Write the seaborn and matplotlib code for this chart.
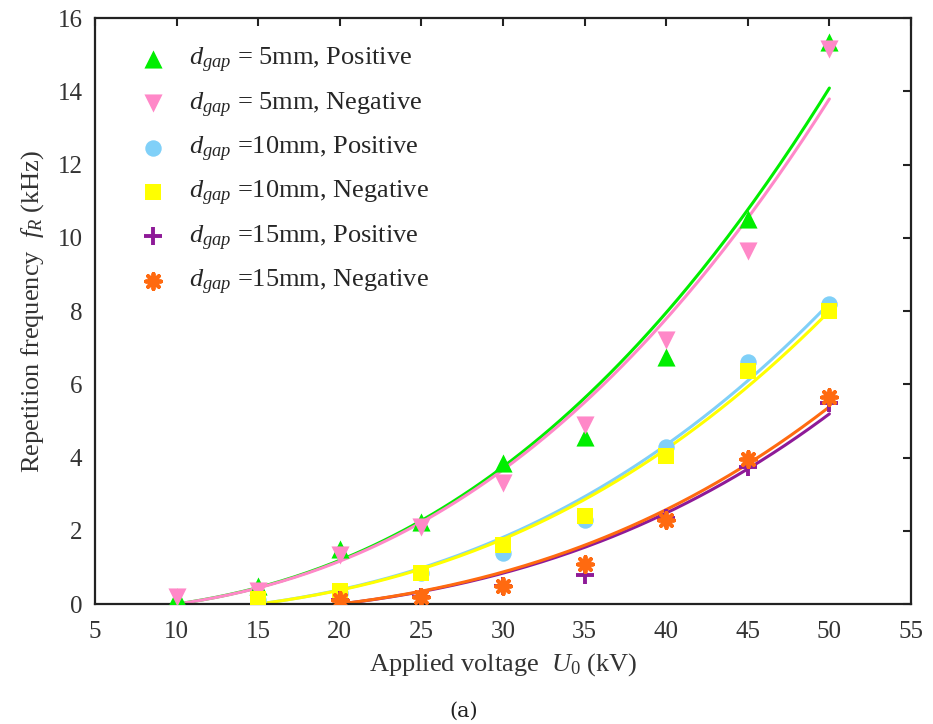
import numpy as np
import pandas as pd
import matplotlib
matplotlib.use("Agg")
import matplotlib.pyplot as plt
import seaborn as sns

# Measured repetition frequency (kHz) against applied voltage (kV)
voltage_5mm = [10, 15, 20, 25, 30, 35, 40, 45, 50]
freq_5mm_pos = [0.2, 0.5, 1.5, 2.25, 3.85, 4.55, 6.75, 10.5, 15.35]
freq_5mm_neg = [0.2, 0.35, 1.35, 2.1, 3.3, 4.9, 7.2, 9.65, 15.15]

voltage_10mm = [15, 20, 25, 30, 35, 40, 45, 50]
freq_10mm_pos = [0.1, 0.3, 0.85, 1.4, 2.3, 4.3, 6.6, 8.2]
freq_10mm_neg = [0.15, 0.35, 0.85, 1.6, 2.4, 4.05, 6.35, 8.0]

voltage_15mm = [20, 25, 30, 35, 40, 45, 50]
freq_15mm_pos = [0.1, 0.2, 0.5, 0.8, 2.35, 3.75, 5.5]
freq_15mm_neg = [0.1, 0.2, 0.5, 1.1, 2.3, 3.95, 5.65]

labels = [
    r"$d_{gap}$ = 5mm, Positive",
    r"$d_{gap}$ = 5mm, Negative",
    r"$d_{gap}$ =10mm, Positive",
    r"$d_{gap}$ =10mm, Negative",
    r"$d_{gap}$ =15mm, Positive",
    r"$d_{gap}$ =15mm, Negative",
]

x_ticks = [5, 10, 15, 20, 25, 30, 35, 40, 45, 50, 55]
y_ticks = [0, 2, 4, 6, 8, 10, 12, 14, 16]

# Exponent n of the power-law trend f = a * (U**n - U_start**n) for each gap
fit_exponents = {"5mm": 2.5, "10mm": 2.7, "15mm": 3.0}

series = [
    (voltage_5mm, freq_5mm_pos, "5mm", "#00ee00", "^", 170, None),
    (voltage_5mm, freq_5mm_neg, "5mm", "#ff88c8", "v", 170, None),
    (voltage_10mm, freq_10mm_pos, "10mm", "#80d0f8", "o", 140, None),
    (voltage_10mm, freq_10mm_neg, "10mm", "#ffff00", "s", 120, None),
    (voltage_15mm, freq_15mm_pos, "15mm", "#8e1a98", "+", 150, 2.8),
    (voltage_15mm, freq_15mm_neg, "15mm", "#ff6a10", (8, 2, 0), 120, 2.8),
]


def power_trend(x, y, n):
    """Least-squares scale a of f = a * (U**n - U0**n), zero at the first voltage."""
    x = np.asarray(x, float)
    y = np.asarray(y, float)
    u = x ** n - x[0] ** n
    a = np.sum(u * y) / np.sum(u * u)
    xs = np.linspace(x[0], x[-1], 200)
    return xs, a * (xs ** n - x[0] ** n)


sns.set_theme(style="white")
plt.rcParams["font.family"] = ["Liberation Serif", "DejaVu Serif"]
plt.rcParams["mathtext.fontset"] = "custom"
plt.rcParams["mathtext.rm"] = "Liberation Serif"
plt.rcParams["mathtext.it"] = "Liberation Serif:italic"

fig = plt.figure(figsize=(9.33, 7.24), dpi=100)
ax = fig.add_axes([0.1018, 0.1657, 0.8746, 0.8094])

# Trend lines through each series, from the first to the last voltage
for x, y, gap, color, marker, size, lw in series:
    xs, fs = power_trend(x, y, fit_exponents[gap])
    fit = pd.DataFrame({"U": xs, "f": fs})
    sns.lineplot(data=fit, x="U", y="f", color=color, linewidth=2.2, ax=ax,
                 legend=False, zorder=2)

for (x, y, gap, color, marker, size, lw), label in zip(series, labels):
    df = pd.DataFrame({"U": x, "f": y})
    kw = dict(linewidth=lw) if lw else dict(linewidth=0)
    sns.scatterplot(data=df, x="U", y="f", color=color, marker=marker, s=size,
                    label=label, ax=ax, zorder=3, edgecolor=color if lw is None else None,
                    **kw)

ax.set_xlim(5, 55)
ax.set_ylim(0, 16)
ax.set_xticks(x_ticks)
ax.set_yticks(y_ticks)
ax.tick_params(direction="in", length=6, width=1.5, top=True, right=True,
               labelsize=18, labelcolor="#333333", color="#222222")
ax.tick_params(axis="x", pad=12)
ax.tick_params(axis="y", pad=9)
for sp in ax.spines.values():
    sp.set_color("#222222")
    sp.set_linewidth(1.6)

ax.set_xlabel(r"Applied voltage  $U_0$ (kV)", fontsize=19, color="#333333", labelpad=6)
ax.set_ylabel(r"Repetition frequency  $f_R$ (kHz)", fontsize=19, color="#333333", labelpad=8)

leg = ax.legend(loc="upper left", bbox_to_anchor=(0.007, 0.997), frameon=False,
                fontsize=19, handletextpad=0.35, labelspacing=0.58,
                borderaxespad=0.6, markerscale=1.0)

fig.text(0.497, 0.004, "(a)", ha="center", va="bottom", fontsize=15,
         family="DejaVu Serif", color="#222222")

fig.savefig("out.png", dpi=100)
